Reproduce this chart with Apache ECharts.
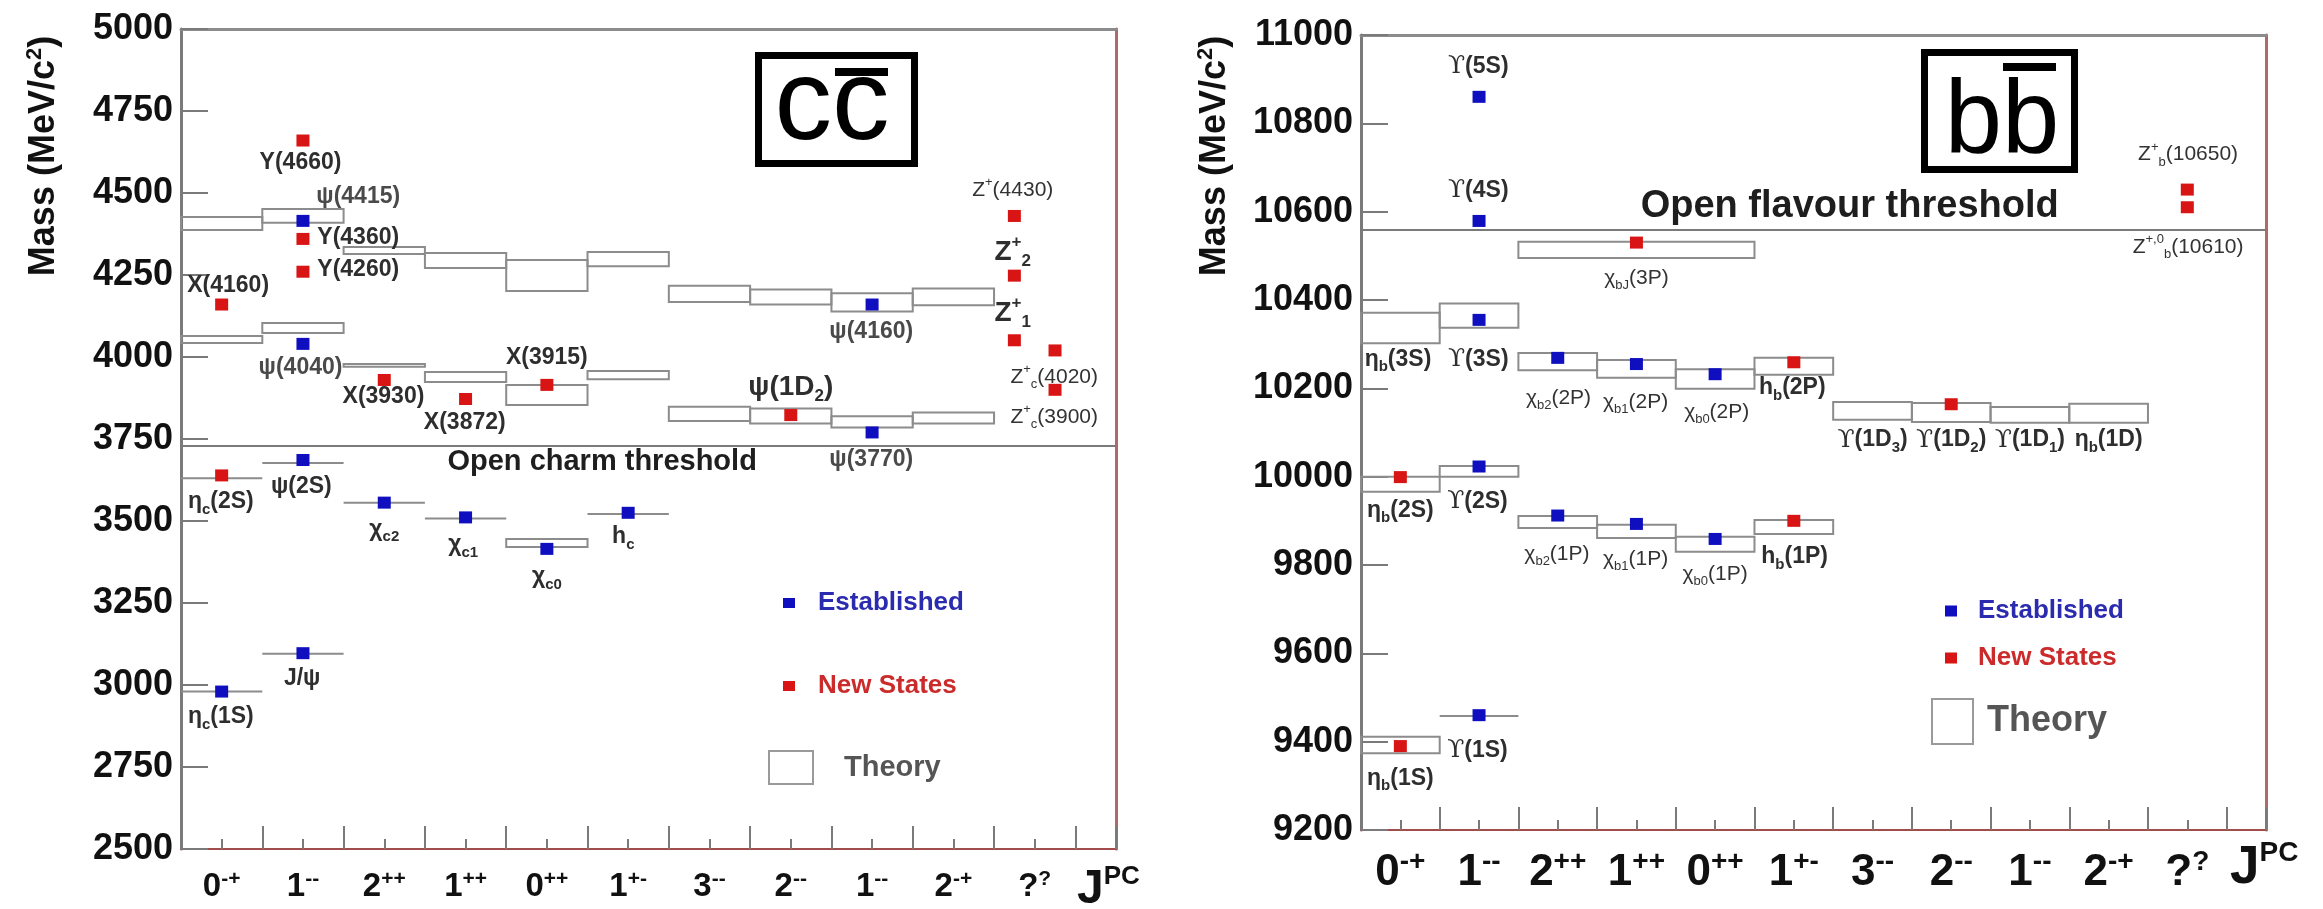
<!DOCTYPE html>
<html>
<head>
<meta charset="utf-8">
<script src="https://cdn.jsdelivr.net/npm/echarts@6/dist/echarts.min.js"></script>
<style>
  html, body { margin: 0; padding: 0; background: #ffffff; }
  #chart { width: 2323px; height: 909px; }
</style>
</head>
<body>
<div id="chart"></div>
<script>
// J^PC columns shared by both panels: [J, PC]
const jpcLabels = [['0','-+'],['1','--'],['2','++'],['1','++'],['0','++'],['1','+-'],
                   ['3','--'],['2','--'],['1','--'],['2','-+'],['?','?']];

// ---------- charmonium (c c-bar) ----------
const ccMassAxis = [2500, 5000, 250];          // min, max, step (MeV/c^2)
const ccThreshold = 3730;                      // open charm threshold
// [position on J^PC axis, mass]
const ccEstablished = [[0.5,2980],[1.5,3097],[1.5,3686],[1.5,4040],[1.5,4415],
                       [2.5,3556],[3.5,3511],[4.5,3415],[5.5,3525],[8.5,3770],[8.5,4160]];
const ccNew = [[0.5,3639],[0.5,4160],[1.5,4260],[1.5,4360],[1.5,4660],
               [2.5,3930],[3.5,3872],[4.5,3915],[7.5,3823],
               [10.25,4051],[10.25,4248],[10.25,4430],[10.75,3900],[10.75,4020]];
// theory bands: [from column, to column, low mass, high mass]
const ccTheory = [[0,1,4387,4427],[0,1,4043,4064],[1,2,4409,4451],[1,2,4073,4104],
                  [2,3,4314,4335],[2,3,3970,3979],[3,4,4271,4317],[3,4,3924,3954],
                  [4,5,4201,4296],[4,5,3854,3915],[5,6,4277,4320],[5,6,3932,3957],
                  [6,7,4168,4217],[6,7,3805,3848],[7,8,4160,4206],[7,8,3797,3843],
                  [8,9,4139,4194],[8,9,3785,3819],[9,10,4158,4209],[9,10,3797,3831],
                  [0,1,3630,3630],[0,1,2980,2980],[1,2,3677,3677],[1,2,3095,3095],
                  [2,3,3556,3556],[3,4,3508,3508],[4,5,3421,3445],[5,6,3521,3521]];
// state names: [J^PC position, mass, text]
const ccNames = [
  [1.47,4591,'{n|Y(4660)}'], [2.18,4488,'{g|ψ(4415)}'], [2.18,4363,'{n|Y(4360)}'],
  [2.18,4265,'{n|Y(4260)}'], [0.58,4216,'{n|X(4160)}'], [1.47,3966,'{g|ψ(4040)}'],
  [2.49,3878,'{n|X(3930)}'], [3.49,3799,'{n|X(3872)}'], [4.50,3997,'{n|X(3915)}'],
  [7.50,3909,'{L|ψ(1D}{Ls|2}{L|)}'], [8.49,4076,'{g|ψ(4160)}'], [8.49,3686,'{g|ψ(3770)}'],
  [10.23,4509,'{m|Z}{mp|+}{m|(4430)}'], [10.23,4320,'{L|Z}{Lp|+}{Ls|2}'],
  [10.23,4134,'{L|Z}{Lp|+}{Ls|1}'], [10.74,3939,'{m|Z}{mp|+}{ms|c}{m|(4020)}'],
  [10.74,3817,'{m|Z}{mp|+}{ms|c}{m|(3900)}'],
  [0.49,3558,'{n|η}{ns|c}{n|(2S)}'], [1.48,3604,'{n|ψ(2S)}'], [2.50,3473,'{n|χ}{ns|c2}'],
  [3.47,3427,'{n|χ}{ns|c1}'], [4.50,3329,'{n|χ}{ns|c0}'], [5.44,3451,'{n|h}{ns|c}'],
  [1.49,3018,'{n|J/ψ}'], [0.49,2902,'{n|η}{ns|c}{n|(1S)}'],
  [5.18,3680,'{T|Open charm threshold}']
];

// ---------- bottomonium (b b-bar) ----------
const bbMassAxis = [9200, 11000, 200];
const bbThreshold = 10558;                     // open flavour threshold
const bbEstablished = [[1.5,10860],[1.5,10579],[1.5,10355],[1.5,10023],[1.5,9460],
                       [2.5,10269],[3.5,10255],[4.5,10232],[2.5,9912],[3.5,9893],[4.5,9859]];
const bbNew = [[0.5,9999],[0.5,9390],[3.5,10530],[5.5,10259],[5.5,9900],[7.5,10164],
               [10.5,10650],[10.5,10610]];
const bbTheory = [[0,1,10302,10371],[1,2,10337,10392],[2,5,10495,10532],
                  [2,3,10241,10280],[3,4,10224,10264],[4,5,10199,10243],[5,6,10231,10269],
                  [6,7,10129,10169],[7,8,10124,10167],[8,9,10122,10158],[9,10,10122,10165],
                  [0,1,9966,10000],[1,2,10000,10024],[2,3,9884,9911],[3,4,9861,9891],
                  [4,5,9830,9864],[5,6,9870,9902],[1,2,9458,9458],[0,1,9374,9411]];
const bbNames = [
  [1.49,10928,'{u|ϒ}{n|(5S)}'], [1.49,10647,'{u|ϒ}{n|(4S)}'], [3.50,10450,'{m|χ}{ms|bJ}{m|(3P)}'],
  [0.47,10265,'{n|η}{ns|b}{n|(3S)}'], [1.49,10265,'{u|ϒ}{n|(3S)}'],
  [2.51,10178,'{m|χ}{ms|b2}{m|(2P)}'], [3.49,10169,'{m|χ}{ms|b1}{m|(2P)}'],
  [4.52,10147,'{m|χ}{ms|b0}{m|(2P)}'], [5.48,10201,'{n|h}{ns|b}{n|(2P)}'],
  [6.50,10083,'{u|ϒ}{n|(1D}{ns|3}{n|)}'], [7.50,10083,'{u|ϒ}{n|(1D}{ns|2}{n|)}'],
  [8.50,10083,'{u|ϒ}{n|(1D}{ns|1}{n|)}'], [9.50,10083,'{n|η}{ns|b}{n|(1D)}'],
  [0.50,9923,'{n|η}{ns|b}{n|(2S)}'], [1.48,9943,'{u|ϒ}{n|(2S)}'],
  [2.49,9825,'{m|χ}{ms|b2}{m|(1P)}'], [3.49,9814,'{m|χ}{ms|b1}{m|(1P)}'],
  [4.50,9780,'{m|χ}{ms|b0}{m|(1P)}'], [5.51,9818,'{n|h}{ns|b}{n|(1P)}'],
  [1.48,9379,'{u|ϒ}{n|(1S)}'], [0.50,9316,'{n|η}{ns|b}{n|(1S)}'],
  [10.51,10729,'{m|Z}{mp|+}{ms|b}{m|(10650)}'], [10.51,10520,'{m|Z}{mp|+,0}{ms|b}{m|(10610)}'],
  [6.21,10611,'{F|Open flavour threshold}']
];

const FONT = 'Liberation Sans';
const BLUE = '#0f0fc0';
const RED = '#d81414';
const AXIS_GRAY = '#7a7a7a';

function txt(size, extra) {
  return Object.assign({ fontFamily: FONT, fontSize: size, fontWeight: 'bold', color: '#2e2e2e' }, extra || {});
}
const nameRich = {
  n: txt(23, { lineHeight: 30 }),
  g: txt(23, { lineHeight: 30, color: '#4a4a4a' }),
  ns: txt(15, { lineHeight: 16, verticalAlign: 'bottom' }),
  np: txt(15, { lineHeight: 16, verticalAlign: 'top' }),
  m: txt(21, { lineHeight: 28, fontWeight: 'normal', color: '#333' }),
  ms: txt(13, { lineHeight: 14, verticalAlign: 'bottom', fontWeight: 'normal', color: '#333' }),
  mp: txt(13, { lineHeight: 14, verticalAlign: 'top', fontWeight: 'normal', color: '#333' }),
  L: txt(28, { lineHeight: 36 }),
  Ls: txt(17, { lineHeight: 18, verticalAlign: 'bottom' }),
  Lp: txt(17, { lineHeight: 18, verticalAlign: 'top' }),
  u: txt(25, { lineHeight: 30, fontFamily: 'DejaVu Serif', fontWeight: 'normal', color: '#2e2e2e' }),
  T: txt(29, { color: '#1e1e1e' }),
  F: txt(38, { color: '#1e1e1e' })
};

function theoryBox(params, api) {
  const a = api.coord([api.value(0), api.value(3)]);
  const b = api.coord([api.value(1), api.value(2)]);
  return {
    type: 'rect',
    shape: { x: a[0], y: a[1], width: b[0] - a[0], height: Math.max(b[1] - a[1], 0) },
    style: { fill: 'none', stroke: '#8c8c8c', lineWidth: 2 }
  };
}

const panels = [
  { grid: { left: 181, top: 29, width: 935, height: 820 },
    mass: ccMassAxis, threshold: ccThreshold, est: ccEstablished, neu: ccNew,
    theory: ccTheory, names: ccNames, labelMargin: 20, jGap: -39, jPad: 15,
    xRich: { b: txt(33, { color: '#111', lineHeight: 36 }), s: txt(21, { color: '#111', lineHeight: 20, verticalAlign: 'top' }) },
    jRich: { J: txt(48, { color: '#111', lineHeight: 52 }), P: txt(26, { color: '#111', lineHeight: 26, verticalAlign: 'top' }) } },
  { grid: { left: 1361, top: 35, width: 905, height: 795 },
    mass: bbMassAxis, threshold: bbThreshold, est: bbEstablished, neu: bbNew,
    theory: bbTheory, names: bbNames, labelMargin: 18, jGap: -36, jPad: 9,
    xRich: { b: txt(44, { color: '#111', lineHeight: 50 }), s: txt(28, { color: '#111', lineHeight: 28, verticalAlign: 'top' }) },
    jRich: { J: txt(53, { color: '#111', lineHeight: 58 }), P: txt(28, { color: '#111', lineHeight: 28, verticalAlign: 'top' }) } }
];

const grids = [], xAxes = [], yAxes = [], series = [];
panels.forEach((p, k) => {
  const g0 = 2 * k, g1 = 2 * k + 1, ai = 3 * k;
  grids.push(Object.assign({ outerBoundsMode: 'none' }, p.grid), Object.assign({ outerBoundsMode: 'none' }, p.grid));
  xAxes.push(
    { gridIndex: g0, type: 'value', position: 'bottom', min: 0, max: 11.5, interval: 1,
      axisLine: { show: true, onZero: false, lineStyle: { color: '#a34c4c', width: 2 } },
      axisTick: { show: true, inside: true, length: 23, lineStyle: { color: AXIS_GRAY, width: 2 } },
      axisLabel: { show: false }, splitLine: { show: false },
      name: '{J|J}{P|PC}', nameLocation: 'end', nameGap: p.jGap, nameMoveOverlap: false,
      nameTextStyle: { align: 'left', verticalAlign: 'top', padding: [p.jPad, 0, 0, 0], rich: p.jRich } },
    { gridIndex: g0, type: 'value', position: 'top', min: 0, max: 11.5,
      axisLine: { show: true, onZero: false, lineStyle: { color: '#8c8c8c', width: 3 } },
      axisTick: { show: false }, axisLabel: { show: false }, splitLine: { show: false } },
    { gridIndex: g1, type: 'value', position: 'bottom', min: 0, max: 11.5, interval: 0.5,
      axisLine: { show: false },
      axisTick: { show: true, inside: true, length: 10, lineStyle: { color: AXIS_GRAY, width: 2 } },
      splitLine: { show: false },
      axisLabel: { show: true, margin: p.labelMargin, rich: p.xRich,
        formatter: v => {
          const c = v - 0.5, i = Math.round(c);
          if (Math.abs(c - i) > 1e-6 || i < 0 || i >= jpcLabels.length) return '';
          return '{b|' + jpcLabels[i][0] + '}{s|' + jpcLabels[i][1] + '}';
        } } }
  );
  yAxes.push(
    { gridIndex: g0, type: 'value', position: 'left', min: p.mass[0], max: p.mass[1], interval: p.mass[2],
      axisLine: { show: true, onZero: false, lineStyle: { color: AXIS_GRAY, width: 3 } },
      axisTick: { show: true, inside: true, length: 27, lineStyle: { color: AXIS_GRAY, width: 2 } },
      axisLabel: { margin: 8, fontFamily: FONT, fontSize: 36, fontWeight: 'bold', color: '#111',
        formatter: v => String(v) },
      splitLine: { show: false } },
    { gridIndex: g0, type: 'value', position: 'right', min: p.mass[0], max: p.mass[1],
      axisLine: { show: true, onZero: false, lineStyle: { color: '#b06868', width: 3 } },
      axisTick: { show: false }, axisLabel: { show: false }, splitLine: { show: false } },
    { gridIndex: g1, type: 'value', show: false, min: 0, max: 1 }
  );
  series.push(
    { type: 'custom', name: 'Theory', xAxisIndex: ai, yAxisIndex: ai, data: p.theory,
      renderItem: theoryBox, encode: { x: [0, 1], y: [2, 3] }, z: 2, silent: true,
      itemStyle: { color: '#ffffff', borderColor: '#8c8c8c' },
      markLine: { silent: true, animation: false, symbol: ['none', 'none'], label: { show: false },
        lineStyle: { color: AXIS_GRAY, width: 2, type: 'solid' }, data: [{ yAxis: p.threshold }] } },
    { type: 'scatter', name: 'Established', xAxisIndex: ai, yAxisIndex: ai, data: p.est,
      symbol: 'rect', symbolSize: [13, 12], itemStyle: { color: BLUE, opacity: 1 }, z: 4, silent: true },
    { type: 'scatter', name: 'New States', xAxisIndex: ai, yAxisIndex: ai, data: p.neu,
      symbol: 'rect', symbolSize: [13, 12], itemStyle: { color: RED, opacity: 1 }, z: 4, silent: true },
    { type: 'scatter', name: 'names', xAxisIndex: ai, yAxisIndex: ai,
      data: p.names.map(d => ({ value: [d[0], d[1]], name: d[2] })),
      symbol: 'circle', symbolSize: 1, itemStyle: { color: 'rgba(0,0,0,0)', opacity: 1 }, z: 5, silent: true,
      label: { show: true, position: 'inside', formatter: q => q.name, rich: nameRich } }
  );
});

function legendItem(name, left, top, icon, textStyle, itemStyle) {
  const d = { name: name, icon: 'rect' };
  if (itemStyle) d.itemStyle = itemStyle;
  return { show: true, left: left, top: top, padding: 0, itemGap: 0, selectedMode: false, orient: 'vertical',
    itemWidth: icon[0], itemHeight: icon[1], data: [d],
    textStyle: Object.assign({ fontFamily: FONT, fontWeight: 'bold', lineHeight: 30 }, textStyle) };
}
const theoryIcon = { color: '#ffffff', borderColor: '#9a9a9a', borderWidth: 2 };
const legends = [
  legendItem('Established', 783, 588, [12, 10], { fontSize: 26, color: '#2b2bb0', padding: [0, 0, 0, 18] }),
  legendItem('New States', 783, 671, [12, 10], { fontSize: 26, color: '#cc2b2b', padding: [0, 0, 0, 18] }),
  legendItem('Theory', 768, 750, [44, 33], { fontSize: 29, color: '#555', padding: [0, 0, 0, 26] }, theoryIcon),
  legendItem('Established', 1945, 596, [12, 11], { fontSize: 26, color: '#2b2bb0', padding: [0, 0, 0, 16] }),
  legendItem('New States', 1945, 643, [12, 11], { fontSize: 26, color: '#cc2b2b', padding: [0, 0, 0, 16] }),
  legendItem('Theory', 1931, 698, [41, 45], { fontSize: 36, color: '#555', padding: [0, 0, 0, 9], lineHeight: 45 }, theoryIcon)
];

const titleRich = {
  m: { fontFamily: FONT, fontSize: 36, fontWeight: 'bold', fill: '#111', lineHeight: 40 },
  s: { fontFamily: FONT, fontSize: 22, fontWeight: 'bold', fill: '#111', lineHeight: 22, verticalAlign: 'top' }
};
function massTitle(x) {
  return { type: 'text', x: x, y: 156, rotation: Math.PI / 2, z: 10,
    style: { text: '{m|Mass (MeV/c}{s|2}{m|)}', rich: titleRich, textAlign: 'center', textVerticalAlign: 'middle' } };
}
function quarkBox(r, letters, font, tx, ty, bar) {
  return { type: 'group', z: 10, children: [
    { type: 'rect', shape: r, style: { fill: '#ffffff', stroke: '#000000', lineWidth: 7 } },
    { type: 'text', x: tx, y: ty, style: { text: letters, font: font, fill: '#000000', textAlign: 'center', textVerticalAlign: 'middle' } },
    { type: 'rect', shape: bar, style: { fill: '#000000' } }
  ] };
}

const option = {
  backgroundColor: '#ffffff',
  animation: false,
  grid: grids, xAxis: xAxes, yAxis: yAxes, series: series, legend: legends,
  graphic: [
    massTitle(44), massTitle(1215),
    quarkBox({ x: 758.5, y: 55.5, width: 156, height: 108 }, 'cc', '115px Liberation Sans', 832, 107, { x: 835, y: 68, width: 53, height: 8 }),
    quarkBox({ x: 1924.5, y: 52.5, width: 150, height: 117 }, 'bb', '103px Liberation Sans', 2002, 124, { x: 2003, y: 63, width: 53, height: 8 })
  ]
};

const chart = echarts.init(document.getElementById('chart'), null, { renderer: 'canvas' });
chart.setOption(option);
</script>
</body>
</html>
